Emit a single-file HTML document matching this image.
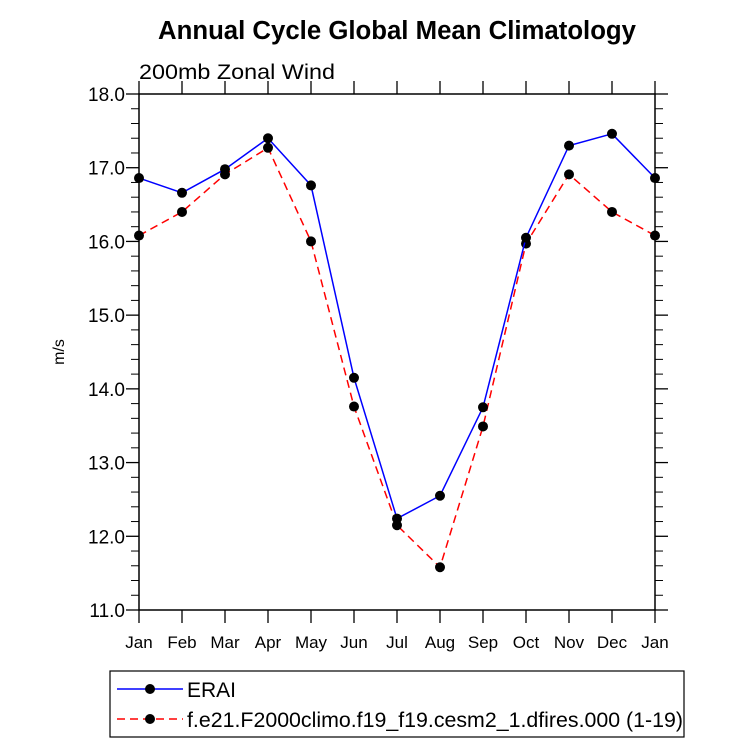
<!DOCTYPE html>
<html><head><style>
body{margin:0;background:#fff;width:732px;height:745px;overflow:hidden;font-family:"Liberation Sans",sans-serif}
</style></head><body>
<svg id="chart" width="732" height="745" xmlns="http://www.w3.org/2000/svg" font-family="Liberation Sans, sans-serif">
<text x="397" y="39" text-anchor="middle" font-size="25.5" font-weight="bold" textLength="478" lengthAdjust="spacingAndGlyphs">Annual Cycle Global Mean Climatology</text>
<text x="139" y="79" font-size="21" textLength="196" lengthAdjust="spacingAndGlyphs">200mb Zonal Wind</text>
<text transform="translate(64,352) rotate(-90)" text-anchor="middle" font-size="16">m/s</text>
<g id="axes"></g>
<g id="series"></g>
<g>
<rect x="110" y="671" width="574" height="66" fill="none" stroke="#000" stroke-width="1.2"/>
<g>
<line x1="117" y1="689" x2="183" y2="689" stroke="#00f" stroke-width="1.5"/>
<circle cx="150" cy="689" r="5" fill="#000"/>
<text x="187" y="697" font-size="21">ERAI</text></g>
<g>
<line x1="117" y1="719" x2="183" y2="719" stroke="#f00" stroke-width="1.5" stroke-dasharray="8,5"/>
<circle cx="150" cy="719" r="5" fill="#000"/>
<text x="187" y="727" font-size="21" textLength="496" lengthAdjust="spacingAndGlyphs">f.e21.F2000climo.f19_f19.cesm2_1.dfires.000 (1-19)</text></g>
</g>
</svg>
<script>
const months=["Jan","Feb","Mar","Apr","May","Jun","Jul","Aug","Sep","Oct","Nov","Dec","Jan"];
const eraiValues=[16.86,16.66,16.98,17.40,16.76,14.15,12.24,12.55,13.75,16.05,17.30,17.46,16.86];
const modelValues=[16.08,16.40,16.91,17.27,16.00,13.76,12.15,11.58,13.49,15.97,16.91,16.40,16.08];
const yTicks=["11.0","12.0","13.0","14.0","15.0","16.0","17.0","18.0"];
const X0=139,X1=655,Y0=610,Y1=94,YMIN=11,YMAX=18;
const xs=i=>X0+(X1-X0)*i/(months.length-1);
const ys=v=>Y0-(v-YMIN)/(YMAX-YMIN)*(Y0-Y1);
const NS="http://www.w3.org/2000/svg";
function mk(t,a,p){const e=document.createElementNS(NS,t);for(const k in a)e.setAttribute(k,a[k]);p.appendChild(e);return e;}
const ax=document.getElementById('axes');
const frame=mk('rect',{x:X0,y:Y1,width:X1-X0,height:Y0-Y1,fill:'none',stroke:'#000','stroke-width':1.5},ax);


for(let i=0;i<months.length;i++){
 const x=xs(i);
 mk('line',{x1:x,y1:Y0,x2:x,y2:Y0+13,stroke:'#000','stroke-width':1.3},ax);
 mk('line',{x1:x,y1:Y1,x2:x,y2:Y1-13,stroke:'#000','stroke-width':1.3},ax);
 const t=mk('text',{x:x,y:Y0+38,'text-anchor':'middle','font-size':17},ax);
 t.textContent=months[i];
 
 
}
for(let v=YMIN;v<=YMAX+1e-6;v+=0.2){
 const y=ys(v);const maj=Math.abs(v-Math.round(v))<1e-6;const L=maj?13:8;
 mk('line',{x1:X0,y1:y,x2:X0-L,y2:y,stroke:'#000','stroke-width':maj?1.3:1},ax);
 mk('line',{x1:X1,y1:y,x2:X1+L,y2:y,stroke:'#000','stroke-width':maj?1.3:1},ax);
}
yTicks.forEach(s=>{const t=mk('text',{x:X0-14,y:ys(parseFloat(s))+7,'text-anchor':'end','font-size':19},ax);t.textContent=s;
 
 });
const sg=document.getElementById('series');
function series(vals,color,dash,name){
 const pts=vals.map((v,i)=>xs(i)+','+ys(v)).join(' ');
 const l=mk('polyline',{points:pts,fill:'none',stroke:color,'stroke-width':1.5,'stroke-dasharray':dash},sg);
 
 
 vals.forEach((v,i)=>{const c=mk('circle',{cx:xs(i),cy:ys(v),r:5,fill:'#000'},sg);
  
  });
}
series(modelValues,'#f00','8,5','model');
series(eraiValues,'#00f','none','erai');
</script>
</body></html>
